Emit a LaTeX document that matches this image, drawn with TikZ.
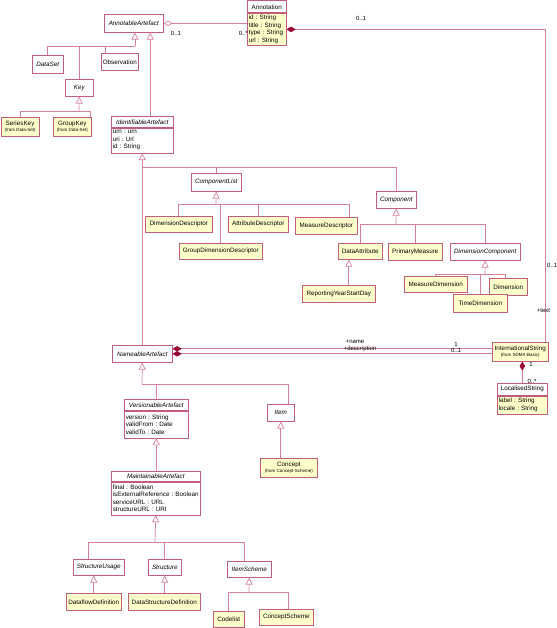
\documentclass[tikz,border=0pt]{standalone}
\usepackage{fontspec}
\setmainfont{Liberation Sans}
\usetikzlibrary{positioning, arrows.meta}

\definecolor{umlline}{RGB}{214,128,158}
\definecolor{umlborder}{RGB}{196,92,124}
\definecolor{umlfill}{RGB}{255,255,204}
\definecolor{umldiamond}{RGB}{153,0,51}

\newcommand{\umlfont}{\fontsize{6.3}{7.5}\selectfont}
\newcommand{\fromfont}{\fontsize{4.5}{5}\selectfont}
\frenchspacing

\begin{document}
\begin{tikzpicture}[
  x=1pt, y=-1pt,
  font=\umlfont,
  abs/.style={draw=umlborder, line width=0.6pt, fill=white, anchor=north west,
              minimum height=17pt, inner sep=1.5pt, align=center, font=\umlfont\itshape},
  plain/.style={abs, font=\umlfont},
  leaf/.style={abs, fill=umlfill, font=\umlfont},
  hdr/.style={abs, minimum height=11pt},
  attrs/.style={draw=umlborder, line width=0.6pt, fill=white, inner sep=1.5pt,
                align=left, font=\umlfont, below=0pt of #1},
  leafattrs/.style={attrs=#1, fill=umlfill},
  link/.style={draw=umlline, line width=0.7pt},
  gen/.style={link, -{Triangle[open, length=7pt, width=7pt, fill=white]}},
  comp/.style={link, {Diamond[length=9pt, width=5.5pt, color=umldiamond]}-},
  aggr/.style={link, {Diamond[open, length=9pt, width=5.5pt, fill=white]}-},
  mult/.style={font=\fontsize{6}{7}\selectfont, inner sep=0pt},
]

\fill[white] (0,0) rectangle (556,628);
\useasboundingbox (0,0) rectangle (556,628);

% top: annotations and keys
\node[abs, minimum width=59pt, minimum height=18pt] (annot) at (104,14) {AnnotableArtefact};
\node[leaf, hdr, font=\umlfont, minimum width=39pt, minimum height=12pt] (annH) at (247,0.5) {Annotation};
\node[leafattrs=annH, text width=36pt, minimum height=32pt] (annA)
    {id : String\\title : String\\type : String\\url : String};

\node[abs, minimum width=31pt, minimum height=18pt] (dataset) at (32,55) {DataSet};
\node[plain, minimum width=37pt] (obs) at (101,53) {Observation};
\node[abs, minimum width=28pt] (key) at (65,79) {Key};
\node[leaf, minimum width=38.5pt, minimum height=19pt] (serieskey) at (0.5,117)
    {SeriesKey\\[-1.5pt]{\fromfont (from Data-Set)}};
\node[leaf, minimum width=38pt, minimum height=19pt] (groupkey) at (53,117)
    {GroupKey\\[-1.5pt]{\fromfont (from Data-Set)}};

\node[hdr, minimum width=62pt] (identH) at (111,116) {IdentifiableArtefact};
\node[attrs=identH, text width=59pt, minimum height=25pt] (identA)
    {urn : urn\\uri : Url\\id : String};

% components
\node[abs, minimum width=50pt, minimum height=18pt] (complist) at (191,173) {ComponentList};
\node[leaf, minimum width=67pt, minimum height=16pt] (dimdesc) at (145,216) {DimensionDescriptor};
\node[leaf, minimum width=83pt, minimum height=16pt] (groupdimdesc) at (179,243) {GroupDimensionDescriptor};
\node[leaf, minimum width=60pt, minimum height=16pt] (attrdesc) at (228,216) {AttributeDescriptor};
\node[leaf, minimum width=62pt] (measuredesc) at (295,217) {MeasureDescriptor};

\node[abs, minimum width=40pt] (component) at (376,191) {Component};
\node[leaf, minimum width=44pt, minimum height=16pt] (dataattr) at (338,243) {DataAttribute};
\node[leaf, minimum width=54pt] (primmeasure) at (388,243) {PrimaryMeasure};
\node[abs, minimum width=70pt] (dimcomp) at (450,243) {DimensionComponent};
\node[leaf, minimum width=73pt] (reportyear) at (302,285) {ReportingYearStartDay};
\node[leaf, minimum width=63pt, minimum height=16pt] (measuredim) at (404,276) {MeasureDimension};
\node[leaf, minimum width=38pt] (dimension) at (489,278) {Dimension};
\node[leaf, minimum width=54pt, minimum height=18pt] (timedim) at (453,294) {TimeDimension};

% names and strings
\node[abs, minimum width=60pt] (nameable) at (112,345) {NameableArtefact};
\node[leaf, minimum width=56pt, minimum height=19pt] (intl) at (492,342)
    {InternationalString\\[-1.5pt]{\fromfont (from SDMX-Basic)}};
\node[leaf, hdr, font=\umlfont, minimum width=50pt, minimum height=12pt] (locH) at (497,383) {LocalisedString};
\node[leafattrs=locH, text width=47pt, minimum height=18pt] (locA)
    {label : String\\locale : String};

% versions and items
\node[hdr, minimum width=64pt] (versH) at (124,399) {VersionableArtefact};
\node[attrs=versH, text width=61pt, minimum height=27pt] (versA)
    {version : String\\validFrom : Date\\validTo : Date};
\node[abs, minimum width=27pt] (item) at (267,404) {Item};
\node[leaf, minimum width=57pt, minimum height=19pt] (concept) at (260,458)
    {Concept\\[-1.5pt]{\fromfont (from Concept-Scheme)}};

\node[hdr, minimum width=89pt, minimum height=10pt] (maintH) at (111,471) {MaintainableArtefact};
\node[attrs=maintH, text width=86pt, minimum height=33pt] (maintA)
    {final : Boolean\\isExternalReference : Boolean\\serviceURL : URL\\structureURL : URI};

% bottom row
\node[abs, minimum width=51pt, minimum height=16pt] (structusage) at (73,559) {StructureUsage};
\node[abs, minimum width=33pt, minimum height=16pt] (structure) at (148,559) {Structure};
\node[abs, minimum width=44pt, minimum height=16pt] (itemscheme) at (227,561) {ItemScheme};
\node[leaf, minimum width=55pt] (dataflow) at (66,593) {DataflowDefinition};
\node[leaf, minimum width=72pt] (dsd) at (128,593) {DataStructureDefinition};
\node[leaf, minimum width=31pt, minimum height=16pt] (codelist) at (213,611) {Codelist};
\node[leaf, minimum width=54pt, minimum height=16pt] (conceptscheme) at (259,609) {ConceptScheme};

% associations
\draw[aggr] (annot.east) -- (annot.east -| annA.west);
\draw[comp] (annA.east) -| ([xshift=-3pt]intl.north east);
\draw[comp] ([yshift=5pt]nameable.east) -- ([yshift=5pt]nameable.east -| intl.west);
\draw[comp] (nameable.east) -- (nameable.east -| intl.west);
\draw[comp] (intl.south -| locH.north) -- (locH.north);

\node[mult] (mAnnot) at (176,33) {0..1};
\node[mult, anchor=east] (mAnnotation) at (248,33) {0..*};
\node[mult] (mText1) at (361,18) {0..1};
\node[mult, anchor=west] (mText2) at (547,265) {0..1};
\node[mult] (rText) at (543.5,311) {+text};
\node[mult] (rName) at (355,342) {+name};
\node[mult] (rDescr) at (360,349) {+description};
\node[mult] (mName) at (456,344) {1};
\node[mult] (mDescr) at (456,350.5) {0..1};
\node[mult] (mIntl) at (531,364) {1};
\node[mult] (mLoc) at (532,381) {0..*};

% generalisations
\coordinate (jAnnot) at (135,46);
\draw[gen] (jAnnot) -- (jAnnot |- annot.south);
\draw[link] (dataset.north) |- (jAnnot);
\draw[link] (key.north) |- (jAnnot);
\draw[link] ([xshift=-14.5pt]obs.north) |- (jAnnot);
\draw[gen] ([xshift=8pt]identH.north) -- ([xshift=8pt]identH.north |- annot.south);

\coordinate (jKey) at (79,111);
\draw[gen] (jKey) -- (key.south);
\draw[link] (serieskey.north) |- (jKey);
\draw[link] ([xshift=18pt]groupkey.north) |- (jKey);

\coordinate (jIdent) at (142,167);
\draw[gen] (nameable.north) -- (nameable.north |- identA.south);
\draw[link] (complist.north) |- (jIdent);
\draw[link] (component.north) |- (jIdent);

\coordinate (jCList) at (216,204);
\draw[gen] (jCList) -- (complist.south);
\draw[link] (dimdesc.north) |- (jCList);
\draw[link] (groupdimdesc.north) |- (jCList);
\draw[link] (attrdesc.north) |- (jCList);
\draw[link] ([xshift=23pt]measuredesc.north) |- (jCList);

\coordinate (jComp) at (396,224);
\draw[gen] (jComp) -- (component.south);
\draw[link] (dataattr.north) |- (jComp);
\draw[link] (primmeasure.north) |- (jComp);
\draw[link] (dimcomp.north) |- (jComp);
\draw[gen] ([xshift=10pt]reportyear.north) -- ([xshift=10pt]reportyear.north |- dataattr.south);

\coordinate (jDimComp) at (485,274);
\draw[gen] (jDimComp) -- (dimcomp.south);
\draw[link] (measuredim.north) |- (jDimComp);
\draw[link] (timedim.north) |- (jDimComp);
\draw[link] ([xshift=-3pt]dimension.north) |- (jDimComp);

\coordinate (jName) at (142,384);
\draw[gen] (jName) -- (nameable.south);
\draw[link] (versH.north) |- (jName);
\draw[link] ([xshift=7.5pt]item.north) |- (jName);
\draw[gen] (concept.north -| item.south) -- (item.south);
\draw[gen] (maintH.north -| versA.south) -- (versA.south);

\coordinate (jMaint) at (155,542);
\draw[gen] (jMaint) -- (maintA.south);
\draw[link] ([xshift=-10.5pt]structusage.north) |- (jMaint);
\draw[link] (structure.north) |- (jMaint);
\draw[link] ([xshift=-5pt]itemscheme.north) |- (jMaint);
\draw[gen] (dataflow.north) -- (dataflow.north |- structusage.south);
\draw[gen] (dsd.north -| structure.south) -- (structure.south);

\coordinate (jIScheme) at (249,592);
\draw[gen] (jIScheme) -- (itemscheme.south);
\draw[link] (codelist.north) |- (jIScheme);
\draw[link] ([xshift=2pt]conceptscheme.north) |- (jIScheme);

\end{tikzpicture}
\end{document}
